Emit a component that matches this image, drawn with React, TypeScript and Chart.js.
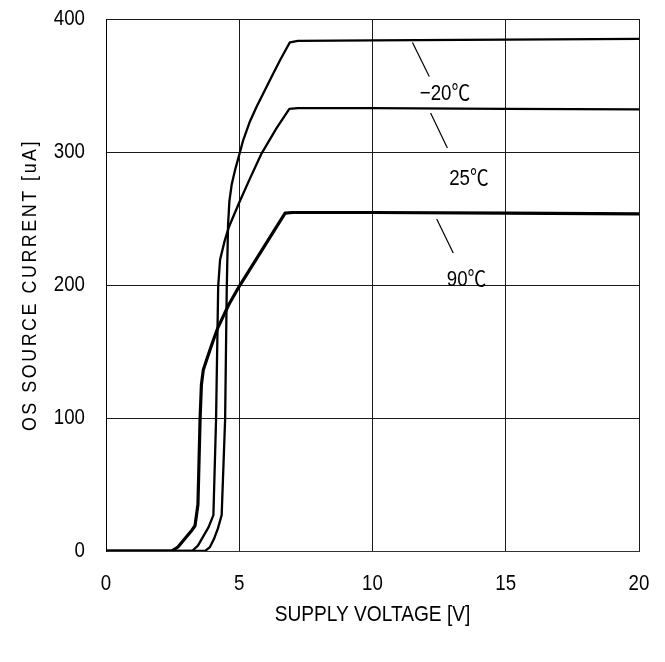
import React, { useEffect, useRef } from "react";
import { Chart, registerables } from "chart.js";

Chart.register(...registerables);

const xTicks = [0, 5, 10, 15, 20];
const yTicks = [0, 100, 200, 300, 400];

const seriesNames = ["-20C", "25C", "90C"];

const voltM20 = [0, 3.72, 3.9, 4.05, 4.2, 4.34, 4.47, 4.53, 4.58, 4.63, 4.72, 4.85, 4.96, 5.15, 5.4, 5.65, 5.9, 6.2, 6.53, 6.9, 7.2, 10, 15, 20];
const currM20 = [0, 0, 3, 9, 17, 27, 99, 196, 245, 263, 276, 287, 295, 309, 323, 334, 344, 356, 369, 382.5, 383.5, 384, 384.5, 385];

const volt25 = [0, 3.23, 3.45, 3.65, 3.85, 4.03, 4.13, 4.21, 4.28, 4.45, 4.6, 5.0, 5.4, 5.84, 6.4, 6.88, 7.2, 10, 15, 20];
const curr25 = [0, 0, 4, 11, 18, 27, 99, 199, 219, 233, 243, 262, 280, 299, 318, 332.5, 333, 333, 332.5, 332];

const volt90 = [0, 2.46, 2.7, 2.95, 3.2, 3.34, 3.45, 3.53, 3.58, 3.65, 3.78, 4.0, 4.2, 4.6, 5.0, 6.72, 7.0, 10, 15, 20];
const curr90 = [0, 0, 3, 9, 15, 19, 35, 99, 125, 136, 144, 157, 168, 185, 199, 254, 254.5, 254.5, 254, 253.5];

const labelTexts = ["\u221220\u2103", "25\u2103", "90\u2103"];
const labelX = [12.72, 13.62, 13.53];
const labelY = [344, 279.5, 204];

const leaderX1 = [11.5, 12.18, 12.41];
const leaderY1 = [382.4, 329.3, 249.6];
const leaderX2 = [12.13, 12.81, 13.03];
const leaderY2 = [356.8, 303, 224];

const xTitle = "SUPPLY VOLTAGE [V]";
const yTitle = "OS SOURCE CURRENT [uA]";

const FONT = "'Liberation Sans', Arial, 'Noto Sans CJK JP', sans-serif";
const SQUEEZE = 0.85;

const toPoints = (xs: number[], ys: number[]) => xs.map((x, i) => ({ x, y: ys[i] }));

function drawText(ctx: any, text: string, x: number, y: number, size: number, align: string, rot = 0, spacing = 0, squeeze = SQUEEZE) {
  ctx.save();
  ctx.translate(x, y);
  if (rot) ctx.rotate(rot);
  ctx.scale(squeeze, 1);
  ctx.font = `${size}px ${FONT}`;
  ctx.fillStyle = "#000";
  ctx.textAlign = align;
  ctx.textBaseline = "middle";
  if (spacing) {
    try { ctx.letterSpacing = `${spacing}px`; } catch (e) {}
  }
  ctx.fillText(text, 0, 0);
  ctx.restore();
}

const annotationPlugin = {
  id: "annots",
  afterDatasetsDraw(chart: any) {
    const { ctx, scales } = chart;
    const xs = scales.x;
    const ys = scales.y;
    ctx.save();
    ctx.strokeStyle = "#000";
    ctx.lineWidth = 1.2;
    for (let i = 0; i < leaderX1.length; i++) {
      ctx.beginPath();
      ctx.moveTo(xs.getPixelForValue(leaderX1[i]), ys.getPixelForValue(leaderY1[i]));
      ctx.lineTo(xs.getPixelForValue(leaderX2[i]), ys.getPixelForValue(leaderY2[i]));
      ctx.stroke();
    }
    ctx.restore();
    for (let i = 0; i < labelTexts.length; i++) {
      drawText(ctx, labelTexts[i], xs.getPixelForValue(labelX[i]), ys.getPixelForValue(labelY[i]), 22, "center");
    }
  },
  afterDraw(chart: any) {
    const { ctx, chartArea, scales } = chart;
    const xs = scales.x;
    const ys = scales.y;
    for (const v of xTicks) {
      drawText(ctx, String(v), xs.getPixelForValue(v), chartArea.bottom + 33, 22, "center");
    }
    for (const v of yTicks) {
      drawText(ctx, String(v), chartArea.left - 21, ys.getPixelForValue(v), 22, "right");
    }
    drawText(ctx, xTitle, (chartArea.left + chartArea.right) / 2, 607, 22, "center", 0, 0, 0.87);
    drawText(ctx, yTitle, 22, (chartArea.top + chartArea.bottom) / 2, 21, "center", -Math.PI / 2, 3);
  },
};

export default function App() {
  const ref = useRef<HTMLCanvasElement | null>(null);
  useEffect(() => {
    if (!ref.current) return;
    const mk = (xs: number[], ys: number[], w: number, name: string) => ({
      label: name,
      data: toPoints(xs, ys),
      borderColor: "#000",
      backgroundColor: "#000",
      borderWidth: w,
      pointRadius: 0,
      tension: 0,
      fill: false,
      showLine: true,
      borderJoinStyle: "round" as const,
      borderCapStyle: "round" as const,
    });
    const chart = new Chart(ref.current, {
      type: "scatter",
      data: {
        datasets: [
          mk(voltM20, currM20, 2.3, seriesNames[0]),
          mk(volt25, curr25, 2.3, seriesNames[1]),
          mk(volt90, curr90, 3.2, seriesNames[2]),
        ],
      },
      options: {
        animation: false,
        responsive: false,
        maintainAspectRatio: false,
        layout: { padding: { left: 0, top: 11, right: 18, bottom: 0 } },
        plugins: { legend: { display: false }, tooltip: { enabled: false }, title: { display: false } },
        scales: {
          x: {
            type: "linear",
            min: 0,
            max: 20,
            afterFit: (s: any) => { s.height = 103; s.paddingLeft = 0; s.paddingRight = 0; },
            afterBuildTicks: (s: any) => { s.ticks = xTicks.map((v) => ({ value: v })); },
            grid: { color: "#1a1a1a", lineWidth: 1, drawTicks: false },
            border: { color: "#333", width: 1 },
            ticks: { display: false },
          },
          y: {
            type: "linear",
            min: 0,
            max: 400,
            afterFit: (s: any) => { s.width = 98; s.paddingTop = 0; s.paddingBottom = 0; },
            afterBuildTicks: (s: any) => { s.ticks = yTicks.map((v) => ({ value: v })); },
            grid: { color: "#1a1a1a", lineWidth: 1, drawTicks: false },
            border: { color: "#000", width: 1 },
            ticks: { display: false },
          },
        },
      },
      plugins: [annotationPlugin],
    });
    return () => chart.destroy();
  }, []);
  return (
    <div style={{ width: 649, height: 646 }}>
      <canvas ref={ref} width={649} height={646} style={{ display: "block" }} />
    </div>
  );
}
